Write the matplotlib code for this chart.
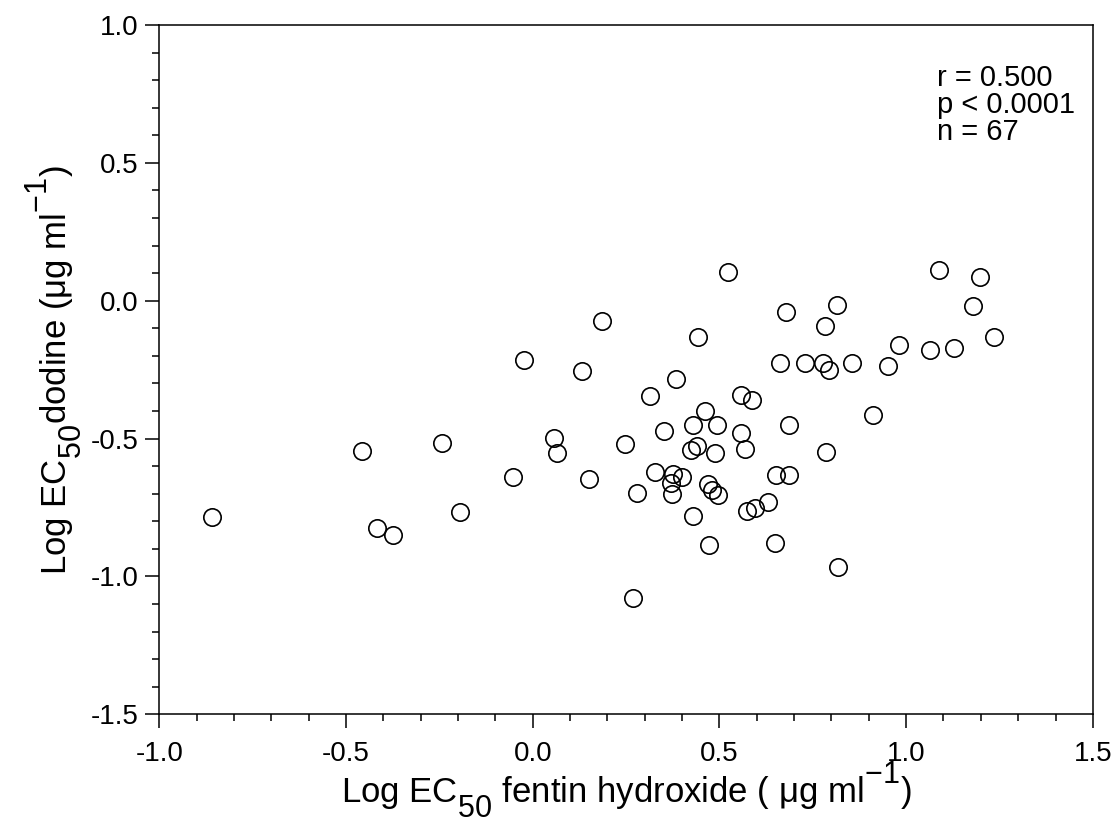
import matplotlib
matplotlib.use("Agg")
import matplotlib.pyplot as plt
import matplotlib._mathtext as mt
from matplotlib.ticker import MultipleLocator, FormatStrFormatter

plt.rcParams['font.family'] = ['Liberation Sans', 'DejaVu Sans']
plt.rcParams['mathtext.fontset'] = 'custom'
plt.rcParams['mathtext.rm'] = 'Liberation Sans'
plt.rcParams['mathtext.it'] = 'Liberation Sans'
plt.rcParams['mathtext.default'] = 'regular'
# sub/superscripts are nearly full size and set well off the baseline in the original
mt.SHRINK_FACTOR = 0.88
mt.FontConstantsBase.sub1 = 0.8
mt.FontConstantsBase.sup1 = 0.95

# log EC50 values
fentin = [-0.860, -0.457, -0.418, -0.373, -0.242, -0.195, -0.052, -0.024,
          0.057, 0.064, 0.131, 0.186, 0.150, 0.246, 0.278, 0.269, 0.314, 0.328,
          0.351, 0.375, 0.370, 0.374, 0.399, 0.383, 0.425, 0.439, 0.430, 0.429,
          0.442, 0.461, 0.494, 0.488, 0.469, 0.481, 0.497, 0.471, 0.524, 0.558,
          0.588, 0.557, 0.568, 0.575, 0.595, 0.629, 0.649, 0.651, 0.687, 0.687,
          0.661, 0.678, 0.728, 0.777, 0.793, 0.784, 0.816, 0.786, 0.818,
          0.854, 0.911, 0.951, 0.981, 1.064, 1.128, 1.088, 1.197, 1.180, 1.235]
dodine = [-0.783, -0.545, -0.823, -0.850, -0.516, -0.766, -0.638, -0.215,
          -0.499, -0.551, -0.255, -0.072, -0.648, -0.519, -0.699, -1.077, -0.347, -0.620,
          -0.473, -0.630, -0.660, -0.702, -0.641, -0.284, -0.540, -0.527, -0.452, -0.782,
          -0.130, -0.401, -0.450, -0.551, -0.665, -0.688, -0.705, -0.887, 0.105, -0.341,
          -0.360, -0.481, -0.537, -0.763, -0.751, -0.730, -0.878, -0.632, -0.632, -0.452,
          -0.226, -0.040, -0.226, -0.226, -0.251, -0.093, -0.017, -0.548, -0.966,
          -0.225, -0.415, -0.235, -0.162, -0.179, -0.170, 0.110, 0.085, -0.020, -0.131]

stats = ["r = 0.500", "p < 0.0001", "n = 67"]

fig = plt.figure(figsize=(11.18, 8.23), dpi=100)
ax = fig.add_axes([0.1425, 0.1321, 0.835, 0.8375])

ax.plot(fentin, dodine, 'o', linestyle='none', markersize=12.5,
        markerfacecolor='none', markeredgecolor='black', markeredgewidth=1.2)

ax.set_xlim(-1.0, 1.5)
ax.set_ylim(-1.5, 1.0)
ax.xaxis.set_major_locator(MultipleLocator(0.5))
ax.xaxis.set_minor_locator(MultipleLocator(0.1))
ax.yaxis.set_major_locator(MultipleLocator(0.5))
ax.yaxis.set_minor_locator(MultipleLocator(0.1))
ax.xaxis.set_major_formatter(FormatStrFormatter('%.1f'))
ax.yaxis.set_major_formatter(FormatStrFormatter('%.1f'))

for s in ax.spines.values():
    s.set_linewidth(1.1)
ax.tick_params(which='major', direction='out', length=10, width=1.1,
               labelsize=20, top=False, right=False)
ax.tick_params(which='minor', direction='out', length=5, width=1.1,
               top=False, right=False)
ax.tick_params(axis='x', which='major', pad=9)
ax.tick_params(axis='y', which='major', pad=5)

ax.set_xlabel("$Log\\ EC_{50}\\ fentin\\ hydroxide\\ (\\ \u03bcg\\ ml^{-1})$",
              fontsize=25, labelpad=-4)
ax.set_ylabel("$Log\\ EC_{50}dodine\\ (\u03bcg\\ ml^{-1})$",
              fontsize=25, labelpad=4)

ax.text(1.082, 0.858, "\n".join(stats), fontsize=21, va='top', ha='left',
        linespacing=0.95)

fig.savefig("out.png", dpi=100)
